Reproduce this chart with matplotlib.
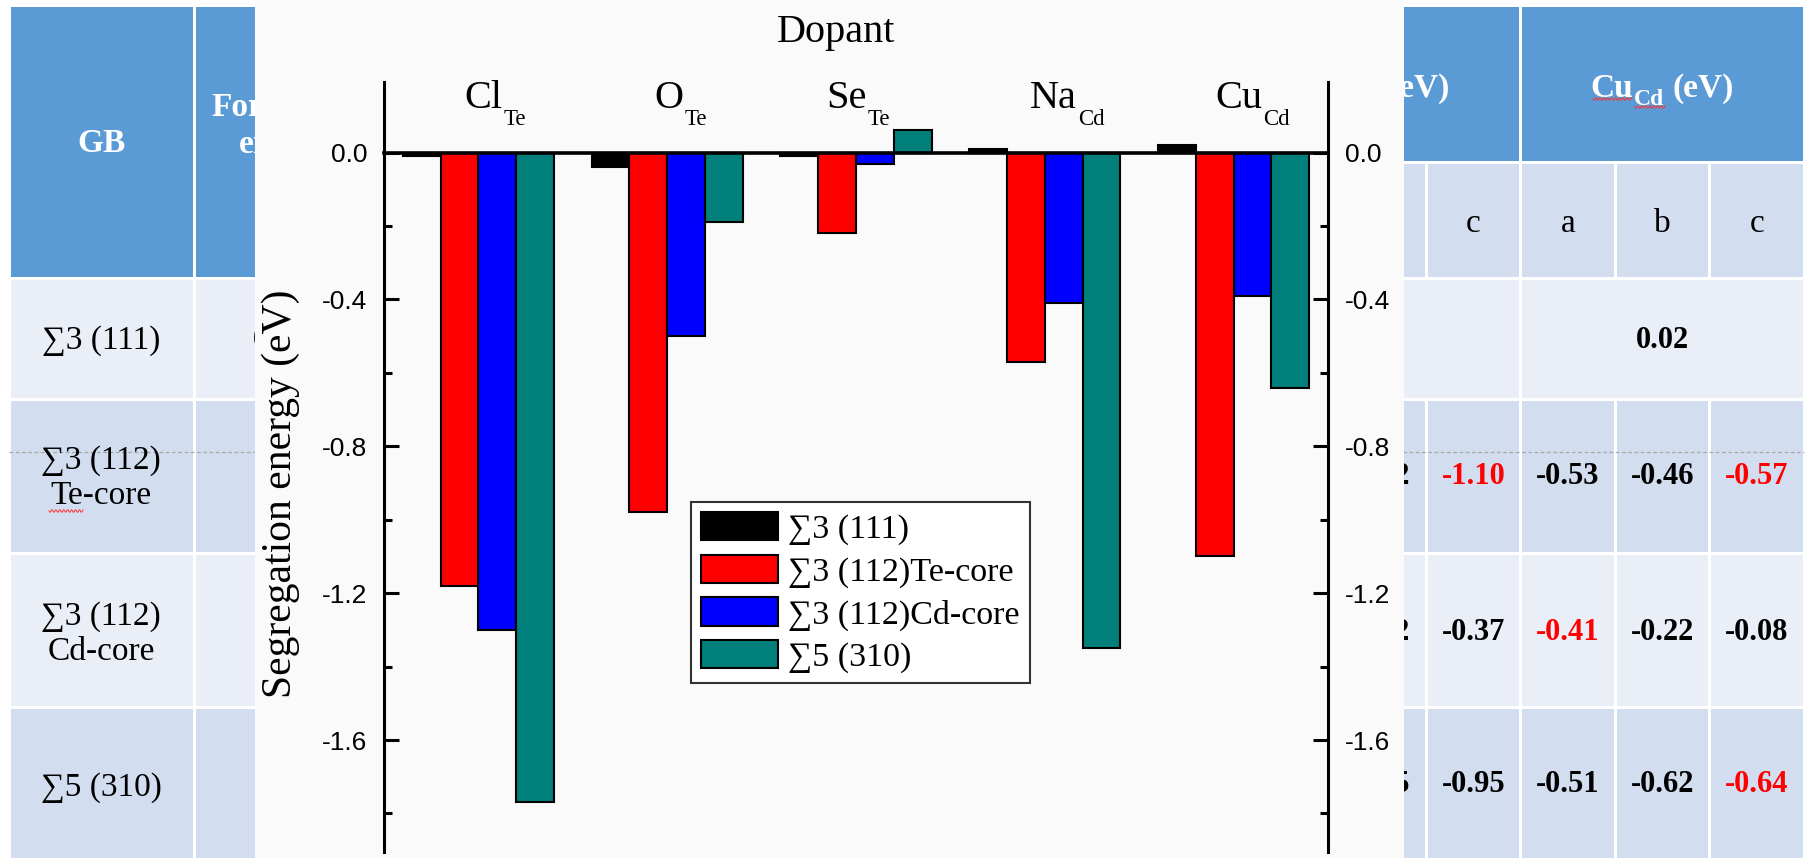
import matplotlib
matplotlib.use('Agg')
import matplotlib.pyplot as plt
from matplotlib.patches import Rectangle, Patch
import numpy as np

W, H = 1810, 858
SERIF = ['Liberation Serif', 'DejaVu Serif']
SANS = ['Liberation Sans', 'DejaVu Sans']
plt.rcParams['font.family'] = SANS
plt.rcParams['axes.unicode_minus'] = False

# ---------------- chart data ----------------
dopants = [('Cl', 'Te'), ('O', 'Te'), ('Se', 'Te'), ('Na', 'Cd'), ('Cu', 'Cd')]
series_names = ['∑3 (111)', '∑3 (112)Te-core', '∑3 (112)Cd-core', '∑5 (310)']
e_111 = [-0.01, -0.04, -0.01, 0.01, 0.02]
e_112_te = [-1.18, -0.98, -0.22, -0.57, -1.10]
e_112_cd = [-1.30, -0.50, -0.03, -0.41, -0.39]
e_310 = [-1.77, -0.19, 0.06, -1.35, -0.64]
bar_colors = ['#000000', '#ff0000', '#0000ff', '#007f7b']
yticks_major = [0.0, -0.4, -0.8, -1.2, -1.6]
yticks_minor = [-0.2, -0.6, -1.0, -1.4, -1.8]

# ---------------- table data ----------------
gb_rows = ['∑3 (111)', '∑3 (112)\nTe-core', '∑3 (112)\nCd-core', '∑5 (310)']
fe_header = 'Formation\nenergy\n(eV)'
fe_111 = '0.055'
sub_cols = ['a', 'b', 'c']
na_111 = '0.01'
na_b_vals = ['-0.52', '-0.32', '-0.85']
na_c_vals = ['-1.10', '-0.37', '-0.95']
na_c_red = [True, False, False]
cu_111 = '0.02'
cu_vals = [['-0.53', '-0.46', '-0.57'],
           ['-0.41', '-0.22', '-0.08'],
           ['-0.51', '-0.62', '-0.64']]
cu_red = [[False, False, True],
          [True, False, False],
          [False, False, True]]

HEAD = '#5b9bd5'
BAND_DARK = '#d2deef'
BAND_LIGHT = '#eaeff7'

fig = plt.figure(figsize=(W / 100, H / 100), dpi=100)
fig.patch.set_facecolor('white')
bg = fig.add_axes([0, 0, 1, 1])
bg.set_xlim(0, W)
bg.set_ylim(H, 0)
bg.axis('off')
renderer = fig.canvas.get_renderer()

PANEL_X0, PANEL_X1 = 255, 1404
clip_left = Rectangle((0, 0), PANEL_X0, H, transform=bg.transData)
clip_right = Rectangle((PANEL_X1, 0), W - PANEL_X1, H, transform=bg.transData)

GAP = 3.0


def cell(x0, y0, x1, y1, color):
    bg.add_patch(Rectangle((x0 + GAP / 2, y0 + GAP / 2), x1 - x0 - GAP, y1 - y0 - GAP,
                           facecolor=color, edgecolor='none', zorder=1))


def txt(x, y, s, clip=None, **kw):
    kw.setdefault('family', SERIF)
    kw.setdefault('ha', 'center')
    kw.setdefault('va', 'center')
    kw.setdefault('zorder', 3)
    t = bg.text(x, y, s, **kw)
    if clip is not None:
        t.set_clip_path(clip)
    return t


def run_text(ax, xc, yb, parts, zorder=3, clip=None):
    """Lay out pieces of text (main + subscript) side by side, centred on xc."""
    arts, widths, gaps = [], [], []
    for s, size, dy, weight, color, gap in parts:
        t = ax.text(0, yb + dy, s, fontsize=size, fontweight=weight, color=color,
                    family=SERIF, ha='left', va='baseline', zorder=zorder)
        if clip is not None:
            t.set_clip_path(clip)
        arts.append(t)
        widths.append(t.get_window_extent(renderer=renderer).width)
        gaps.append(gap)
    total = sum(widths) + sum(gaps)
    x = xc - total / 2
    for t, w, g in zip(arts, widths, gaps):
        x += g
        t.set_x(x)
        x += w


def wavy(x0, x1, y):
    xs = np.linspace(x0, x1, int((x1 - x0) * 1.5))
    ys = y + 1.3 * np.sin((xs - x0) * 1.6)
    bg.plot(xs, ys, color='#ff3030', lw=0.7, zorder=3)


# ---------------- table layout ----------------
x_gb = (9, 194)
x_fe = (194, 386.5)
col_w = 94.5
col_edges = [x_fe[1] + col_w * k for k in range(16)]
y_top, y_grp, y_sub = 5, 162, 278
row_edges = [278, 399, 553, 707, 872]
row_colors = [BAND_LIGHT, BAND_DARK, BAND_LIGHT, BAND_DARK]

cell(x_gb[0], y_top, x_gb[1], y_sub, HEAD)
cell(x_fe[0], y_top, x_fe[1], y_sub, HEAD)
for g in range(5):
    gx0, gx1 = col_edges[3 * g], col_edges[3 * g + 3]
    cell(gx0, y_top, gx1, y_grp, HEAD)
    for c in range(3):
        cell(col_edges[3 * g + c], y_grp, col_edges[3 * g + c + 1], y_sub, BAND_DARK)
for r in range(4):
    y0, y1 = row_edges[r], row_edges[r + 1]
    col = row_colors[r]
    cell(x_gb[0], y0, x_gb[1], y1, col)
    cell(x_fe[0], y0, x_fe[1], y1, col)
    for g in range(5):
        if r == 0:
            cell(col_edges[3 * g], y0, col_edges[3 * g + 3], y1, col)
        else:
            for c in range(3):
                cell(col_edges[3 * g + c], y0, col_edges[3 * g + c + 1], y1, col)

# header texts
txt(101, 144, 'GB', fontsize=24, fontweight='bold', color='white')
txt(287, 145, fe_header, clip=clip_left, fontsize=24, fontweight='bold', color='white',
    linespacing=1.25)
na_cx = (col_edges[9] + col_edges[12]) / 2
cu_cx = (col_edges[12] + col_edges[15]) / 2
for cx, (main, sub), clip in [(na_cx, dopants[3], clip_right), (cu_cx, dopants[4], None)]:
    run_text(bg, cx, 97, [(main, 24, 0, 'bold', 'white', 0),
                          (sub, 17, 8, 'bold', 'white', 1),
                          ('(eV)', 24, 0, 'bold', 'white', 8)], clip=clip)
wavy(1593, 1632, 99)
wavy(1635, 1665, 107)
for g in (3, 4):
    for c in range(3):
        cx = (col_edges[3 * g + c] + col_edges[3 * g + c + 1]) / 2
        txt(cx, 224, sub_cols[c], clip=clip_right, fontsize=24)

# first column
gb_y = [341, 478, 634, 788]
for s, y in zip(gb_rows, gb_y):
    txt(101, y, s, fontsize=24, linespacing=1.2)
wavy(49, 83, 511)

# values
txt(287, 341, fe_111, clip=clip_left, fontsize=22, fontweight='bold')
txt(na_cx, 341, na_111, clip=clip_right, fontsize=22, fontweight='bold')
txt(cu_cx, 341, cu_111, fontsize=22, fontweight='bold')
val_y = [477, 632, 785]
nb_cx = (col_edges[10] + col_edges[11]) / 2
nc_cx = (col_edges[11] + col_edges[12]) / 2
for r in range(3):
    txt(nb_cx, val_y[r], na_b_vals[r], clip=clip_right, fontsize=22, fontweight='bold')
    txt(nc_cx, val_y[r], na_c_vals[r], fontsize=22, fontweight='bold',
        color='#ff0000' if na_c_red[r] else 'black')
    for c in range(3):
        cx = (col_edges[12 + c] + col_edges[13 + c]) / 2
        txt(cx, val_y[r], cu_vals[r][c], fontsize=22, fontweight='bold',
            color='#ff0000' if cu_red[r][c] else 'black')

# faint dashed guide across the table
bg.plot([9, 1804], [452, 452], color='#a8a8a8', lw=0.9, ls=(0, (3, 2)), zorder=2)

# ---------------- chart panel ----------------
bg.add_patch(Rectangle((PANEL_X0, 0), PANEL_X1 - PANEL_X0, H, facecolor='#fafafa',
                       edgecolor='none', zorder=5))

ax_l, ax_r, ax_t, ax_b = 384, 1328, 82, 852
ax = fig.add_axes([ax_l / W, (H - ax_b) / H, (ax_r - ax_l) / W, (ax_b - ax_t) / H])
ax.set_facecolor('none')

pos = np.arange(1, len(dopants) + 1)
all_series = [e_111, e_112_te, e_112_cd, e_310]
bw = 0.2
for i, (vals, colr, name) in enumerate(zip(all_series, bar_colors, series_names)):
    ax.bar(pos + (i - 1.5) * bw, vals, bw, color=colr, edgecolor='black',
           linewidth=1.5, label=name, zorder=2)

ax.set_xlim(0.5, 5.5)
ax.set_ylim(-1.905, 0.192)
ax.spines['top'].set_visible(False)
ax.spines['bottom'].set_position(('data', 0))
ax.spines['bottom'].set_linewidth(2.6)
ax.spines['bottom'].set_zorder(3)
for s in ('left', 'right'):
    ax.spines[s].set_linewidth(2.2)
ax.set_xticks([])
ax.set_yticks(yticks_major)
ax.set_yticklabels(['%.1f' % v for v in yticks_major])
ax.set_yticks(yticks_minor, minor=True)
ax.tick_params(axis='y', which='both', direction='in', left=True, right=True,
               labelleft=True, labelright=True, width=2.2, labelsize=19)
ax.tick_params(axis='y', which='major', length=11, pad=12)
ax.tick_params(axis='y', which='minor', length=6)
for lab in ax.get_yticklabels():
    lab.set_family(SANS)

handles = [Patch(facecolor=c, edgecolor='black', linewidth=1.5) for c in bar_colors]
leg = ax.legend(handles, series_names, loc='upper left',
                bbox_to_anchor=(691 / W, 1 - 502 / H), bbox_transform=fig.transFigure,
                borderaxespad=0, prop={'family': SERIF, 'size': 24.5},
                handlelength=2.25, handleheight=0.9, handletextpad=0.3,
                borderpad=0.3, labelspacing=0.28, frameon=True, fancybox=False,
                edgecolor='#333333', framealpha=1, facecolor='white')
leg.get_frame().set_linewidth(1.5)

# titles and dopant labels
txt(836, 42, 'Dopant', fontsize=29, va='baseline', zorder=8)
txt(281, 494, 'Segregation energy (eV)', fontsize=30, rotation=90, zorder=8)
label_off = [0.09, 0.07, 0.01, 0.12, 0.10]
for p, off, (main, sub) in zip(pos, label_off, dopants):
    xd = ax.transData.transform((p + off, 0))[0]
    run_text(bg, xd, 108, [(main, 29, 0, 'normal', 'black', 0),
                           (sub, 16.5, 17, 'normal', 'black', 1)], zorder=8)

fig.savefig('out.png', dpi=100, facecolor='white')
